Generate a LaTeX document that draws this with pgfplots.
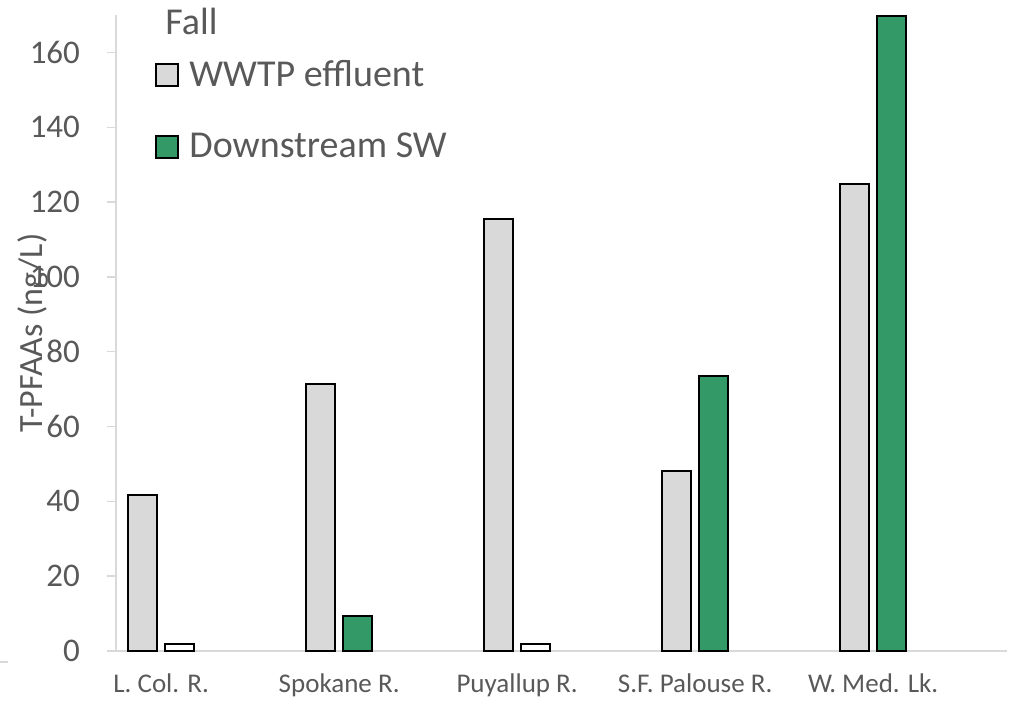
\documentclass[border=0pt]{standalone}
\usepackage{pgfplots}
\pgfplotsset{compat=1.18}
\usepackage{fontspec}
\setmainfont{Carlito}
\definecolor{txt}{HTML}{595959}
\definecolor{axg}{HTML}{D9D9D9}
\definecolor{wwtp}{HTML}{D9D9D9}
\definecolor{dsw}{HTML}{339966}
\pgfplotsset{sqlegend/.style={legend image code/.code={\draw[##1, line width=1pt] (0pt,-5.5pt) rectangle (11pt,5.5pt);}}}
\begin{document}
\begin{tikzpicture}
\path[use as bounding box] (0,0) rectangle (507.5pt,351pt);
\draw[axg, line width=0.7pt] (0pt,20pt) -- (4pt,20pt);
\begin{axis}[
 at={(58pt,25.5pt)}, anchor=south west,
 scale only axis, width=445.5pt, height=318pt,
 xmin=-0.254, xmax=4.752, ymin=0, ymax=170,
 clip=false,
 axis lines=left, axis line style={-, draw=axg, line width=0.7pt},
 ytick={0,20,...,160}, tick align=outside, major tick length=4.5pt,
 ytick style={draw=axg, line width=0.7pt},
 xtick={0,1,2,3,4}, xtick style={draw=none},
 xticklabels={L. Col. R., Spokane R., Puyallup R., S.F. Palouse R., W. Med. Lk.},
 /pgf/number format/assume math mode=true,
 yticklabel style={font=\fontsize{16.5}{19}\selectfont, text=txt, xshift=-10pt},
 xticklabel style={font=\fontsize{13.5}{16}\selectfont, text=txt, yshift=-3.5pt},
 ylabel={T-PFAAs (ng/L)},
 ylabel style={font=\fontsize{17}{20}\selectfont, text=txt, at={(axis description cs:-0.093,0.5)}, anchor=center},
 legend style={at={(axis description cs:0.0438,0.93)}, anchor=north west, draw=none, fill=none,
   font=\fontsize{19}{22}\selectfont, text=txt, row sep=22pt, inner sep=0pt,
   nodes={inner sep=0pt}, /tikz/every odd column/.append style={column sep=5pt}},
 legend cell align=left,
]
\addplot[ybar, bar width=14.5pt, bar shift=-9.25pt, fill=wwtp, draw=black, line width=1pt, sqlegend]
  coordinates {(0,41.7) (1,71.5) (2,115.6) (3,48.2) (4,124.8)};
\addlegendentry{WWTP effluent}
\addplot[ybar, bar width=14.5pt, bar shift=9.25pt, fill=dsw, draw=black, line width=1pt, sqlegend]
  coordinates {(1,9.4) (3,73.5) (4,169.6)};
\addlegendentry{Downstream SW}
\addplot[ybar, bar width=14.5pt, bar shift=9.25pt, fill=white, draw=black, line width=1pt, forget plot]
  coordinates {(0,2.0) (2,2.0)};
\node[anchor=base west, inner sep=0pt, font=\fontsize{19}{22}\selectfont, text=txt] at ([xshift=24.5pt, yshift=-10pt]rel axis cs:0,1) {Fall};
\end{axis}
\end{tikzpicture}
\end{document}
